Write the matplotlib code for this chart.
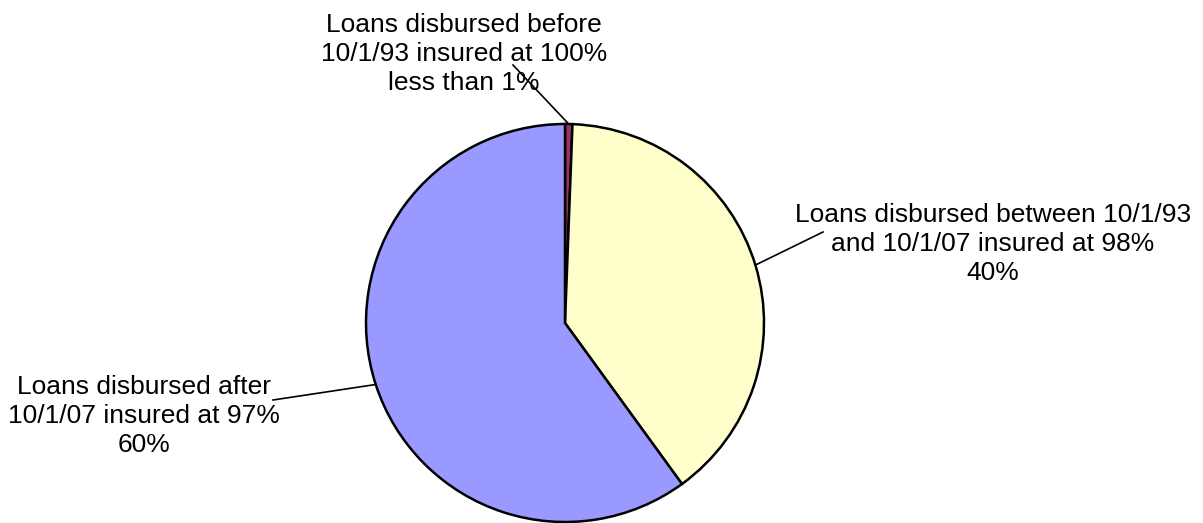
import numpy as np
import matplotlib.pyplot as plt

labels = ['Loans disbursed before\n10/1/93 insured at 100%\nless than 1%',
          'Loans disbursed between 10/1/93\nand 10/1/07 insured at 98%\n40%',
          'Loans disbursed after\n10/1/07 insured at 97%\n60%']
shares = [0.6, 39.4, 60.0]
colors = ['#993366', '#FFFFCC', '#9999FF']

# label centres and where the leader line starts (pixel coords, y up)
label_pos = [(464, 469), (993, 279), (144, 107)]
line_start = [(513, 458), (823, 291), (273, 123)]

W, H = 1203, 523
fig = plt.figure(figsize=(W / 100, H / 100), dpi=100)
ax = fig.add_axes([0, 0, 1, 1])
ax.set_xlim(0, W)
ax.set_ylim(0, H)
ax.set_aspect('equal')
ax.axis('off')

cx, cy, r = 565, 200, 199
wedges, _ = ax.pie(shares, colors=colors, startangle=90, counterclock=False,
                   center=(cx, cy), radius=r,
                   wedgeprops=dict(edgecolor='black', linewidth=1.8))
ax.set_xlim(0, W)
ax.set_ylim(0, H)

for w, lab, pos, st in zip(wedges, labels, label_pos, line_start):
    mid = np.deg2rad((w.theta1 + w.theta2) / 2)
    ex, ey = cx + r * np.cos(mid), cy + r * np.sin(mid)
    ax.plot([st[0], ex], [st[1], ey], color='black', linewidth=1.2)
    ax.text(pos[0], pos[1], lab, ha='center', va='center', fontsize=19,
            family='Liberation Sans', linespacing=1.25)

fig.savefig('out.png', dpi=100)
